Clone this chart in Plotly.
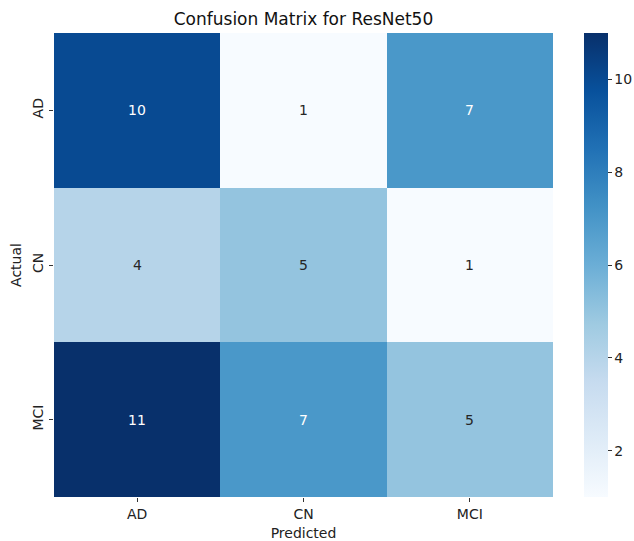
import plotly.graph_objects as go

classes = ["AD", "CN", "MCI"]
matrix = [
    [10, 1, 7],
    [4, 5, 1],
    [11, 7, 5],
]
cbar_ticks = [2, 4, 6, 8, 10]

blues = ["#f7fbff", "#deebf7", "#c6dbef", "#9ecae1", "#6baed6",
         "#4292c6", "#2171b5", "#08519c", "#08306b"]
colorscale = [[i / (len(blues) - 1), c] for i, c in enumerate(blues)]

zmin, zmax = 1, 11
font = "DejaVu Sans"

fig = go.Figure(go.Heatmap(
    z=matrix, x=classes, y=classes,
    colorscale=colorscale, zmin=zmin, zmax=zmax,
    xgap=0, ygap=0,
    colorbar=dict(
        x=1.062, xanchor="left", y=0.5, yanchor="middle",
        len=1, lenmode="fraction", thickness=24,
        xpad=0, ypad=0,
        outlinewidth=0, tickvals=cbar_ticks,
        ticks="outside", ticklen=4, tickcolor="#333",
        tickfont=dict(family=font, size=14, color="#222"),
    ),
))

annotations = []
for i, row in enumerate(matrix):
    for j, v in enumerate(row):
        frac = (v - zmin) / (zmax - zmin)
        annotations.append(dict(
            x=classes[j], y=classes[i], text=str(v), showarrow=False,
            font=dict(family=font, size=14,
                      color="white" if frac > 0.5 else "#262626"),
        ))

fig.update_layout(
    width=634, height=541,
    margin=dict(l=54, r=81, t=33, b=44, autoexpand=False),
    paper_bgcolor="white", plot_bgcolor="white",
    title=dict(text="Confusion Matrix for ResNet50", x=0.5, xref="paper",
               xanchor="center", y=1 - 19 / 541, yanchor="middle",
               font=dict(family=font, size=17, color="#111")),
    annotations=annotations,
    xaxis=dict(title=dict(text="Predicted", standoff=8,
                          font=dict(family=font, size=14, color="#222")),
               tickfont=dict(family=font, size=14, color="#222"),
               ticks="outside", ticklen=4, tickcolor="#333",
               showgrid=False, zeroline=False),
    yaxis=dict(title=dict(text="Actual", standoff=5,
                          font=dict(family=font, size=14, color="#222")),
               tickfont=dict(family=font, size=14, color="#222"),
               tickangle=-90, autorange="reversed",
               ticks="outside", ticklen=4, tickcolor="#333",
               showgrid=False, zeroline=False),
)

fig.write_html("out.html",
               config={"displayModeBar": False},
               post_script="document.body.style.margin='0';")
